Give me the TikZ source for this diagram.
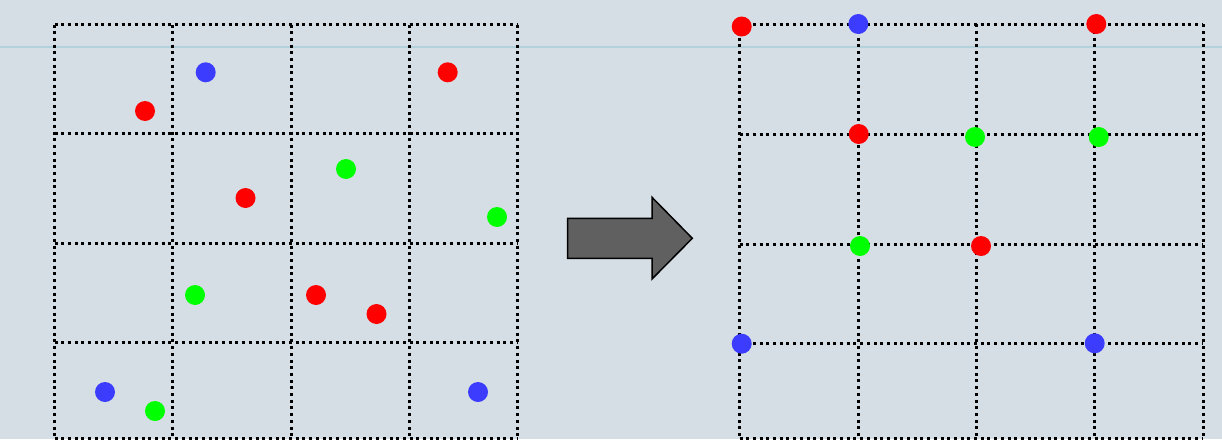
\documentclass[tikz,border=0pt]{standalone}
\definecolor{bgc}{RGB}{214,222,229}
\definecolor{faint}{RGB}{180,210,219}
\definecolor{dred}{RGB}{255,0,0}
\definecolor{dblue}{RGB}{60,60,255}
\definecolor{dgreen}{RGB}{0,255,0}
\definecolor{arrowgray}{RGB}{96,96,96}
\begin{document}
\begin{tikzpicture}[x=1pt,y=-1pt,
  gridline/.style={line width=3pt, dash pattern=on 3pt off 3.7pt, black},
  dot/.style={circle, inner sep=0pt, minimum size=20pt, draw=none},
  reddot/.style={dot, fill=dred},
  bluedot/.style={dot, fill=dblue},
  greendot/.style={dot, fill=dgreen}]
\fill[bgc] (0,0) rectangle (1222,439);
\useasboundingbox (0,0) rectangle (1222,439);
\draw[line width=1.8pt, faint] (0,46.7) -- (1222,46.7);
% left grid
\foreach \x in {54.5,172.7,291,409.3,517.3}
  \draw[gridline] (\x,24.5) -- (\x,438.5);
\foreach \y in {24.5,133.5,243,342.3,438.3}
  \draw[gridline] (54.5,\y) -- (517.3,\y);
% right grid
\foreach \x in {739.5,858,976,1094.7,1203}
  \draw[gridline] (\x,24.3) -- (\x,438.5);
\foreach \y in {24.3,134,244,343,438.3}
  \draw[gridline] (739.5,\y) -- (1203,\y);
% arrow
\draw[line width=1.5pt, fill=arrowgray, line join=miter]
  (567.7,218.3) -- (652,218.3) -- (652,197.3) -- (692.3,238.3)
  -- (652,279) -- (652,258.3) -- (567.7,258.3) -- cycle;
% left dots
\node[reddot]   (l1)  at (145,111) {};
\node[bluedot]  (l2)  at (205.7,72.3) {};
\node[reddot]   (l3)  at (447.7,72.3) {};
\node[greendot] (l4)  at (346,169) {};
\node[reddot]   (l5)  at (245.5,198) {};
\node[greendot] (l6)  at (497,217) {};
\node[greendot] (l7)  at (195,295) {};
\node[reddot]   (l8)  at (316,295) {};
\node[reddot]   (l9)  at (376.5,314) {};
\node[bluedot]  (l10) at (105,392) {};
\node[greendot] (l11) at (155,411) {};
\node[bluedot]  (l12) at (478,392) {};
% right dots
\node[reddot]   (r1)  at (741.7,26.5) {};
\node[bluedot]  (r2)  at (858.3,24) {};
\node[reddot]   (r3)  at (1096.3,24) {};
\node[reddot]   (r4)  at (858.7,134) {};
\node[greendot] (r5)  at (975,137) {};
\node[greendot] (r6)  at (1098.7,137) {};
\node[greendot] (r7)  at (860,246) {};
\node[reddot]   (r8)  at (981,246) {};
\node[bluedot]  (r9)  at (741.7,343.7) {};
\node[bluedot]  (r10) at (1094.7,343.3) {};
\end{tikzpicture}
\end{document}
